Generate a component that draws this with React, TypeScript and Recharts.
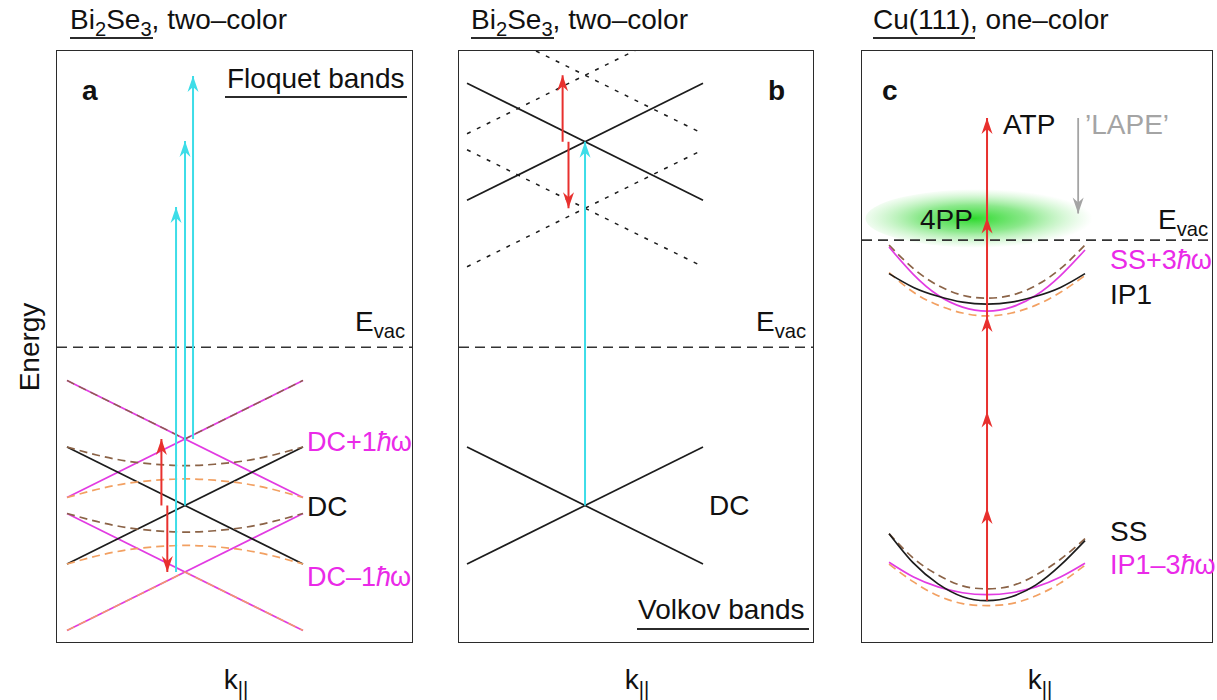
import React from 'react';
import {
    ComposedChart, Line, XAxis, YAxis,
    ReferenceLine, ReferenceArea,
} from 'recharts';

// ---------- panels a & b : Bi2Se3, two-colour ----------
// k in units of the cone half-width, E in units of the pump photon (ħω)
const coneK = [-1, 1];
const dcFalling = [0.88, -0.88];
const dcRising = [-0.88, 0.88];
const dcPlusFalling = [1.88, 0.12];
const dcPlusRising = [0.12, 1.88];
const dcMinusFalling = [-0.12, -1.88];
const dcMinusRising = [-1.88, -0.12];

const vK = [-1, 0, 1];
const dcPlusTop = [1.88, 1, 1.88];
const dcMinusBottom = [-1.88, -1, -1.88];

// hybridised bands around the DC / DC±1ħω crossings
const gapK = [-1, -0.75, -0.5, -0.25, 0, 0.25, 0.5, 0.75, 1];
const upperGapHigh = [0.88, 0.76, 0.67, 0.62, 0.6, 0.62, 0.67, 0.76, 0.88];
const upperGapLow = [0.12, 0.24, 0.33, 0.38, 0.4, 0.38, 0.33, 0.24, 0.12];
const lowerGapHigh = [-0.12, -0.24, -0.33, -0.38, -0.4, -0.38, -0.33, -0.24, -0.12];
const lowerGapLow = [-0.88, -0.76, -0.67, -0.62, -0.6, -0.62, -0.67, -0.76, -0.88];

const eVacAB = 2.38;

// transitions: [k, E start, E end]
const probeA = [[-0.076, -1, 4.49], [0, 0, 5.48], [0.068, 1, 6.46]];
const pumpA = [[-0.2, 0, 1], [-0.15, 0, -1]];

// Volkov replicas of the photoemitted cone
const volkovFalling = [6.35, 4.59];
const volkovRising = [4.59, 6.35];
const volkovPlusFalling = [7.35, 5.59];
const volkovPlusRising = [5.59, 7.35];
const volkovMinusFalling = [5.35, 3.59];
const volkovMinusRising = [3.59, 5.35];
const probeB = [[0, 0, 5.47]];
const pumpB = [[-0.19, 5.47, 6.47], [-0.14, 5.47, 4.47]];

// ---------- panel c : Cu(111), one-colour ----------
const parK = [-1, -0.75, -0.5, -0.25, 0, 0.25, 0.5, 0.75, 1];
const ip1 = [3.74, 3.6, 3.51, 3.45, 3.43, 3.45, 3.51, 3.6, 3.74];
const ssPlus3 = [4.01, 3.73, 3.52, 3.4, 3.36, 3.4, 3.52, 3.72, 3.98];
const ip1HybHigh = [4.03, 3.79, 3.62, 3.52, 3.49, 3.52, 3.62, 3.79, 4.03];
const ip1HybLow = [3.75, 3.55, 3.42, 3.34, 3.31, 3.34, 3.42, 3.55, 3.72];
const ss = [1.1, 0.8, 0.59, 0.46, 0.42, 0.46, 0.58, 0.78, 1.03];
const ip1Minus3 = [0.81, 0.66, 0.56, 0.5, 0.48, 0.5, 0.56, 0.66, 0.8];
const ssHybHigh = [1.1, 0.85, 0.68, 0.57, 0.54, 0.57, 0.68, 0.84, 1.05];
const ssHybLow = [0.79, 0.61, 0.47, 0.39, 0.37, 0.39, 0.47, 0.6, 0.78];
const photonSteps = [0.42, 1.36, 2.34, 3.31, 4.31, 5.32];
const lapeK = 0.93;
const lapeE = [5.32, 4.35];
const eVacC = 4.08;
const fourPPk = [-1.24, 1.2];
const fourPPe = [4.0, 4.6];

const FONT = '"Liberation Sans", Arial, Helvetica, sans-serif';
const MAGENTA = '#e23be2';
const MAGENTA_TXT = '#ea2ae8';
const BLACK = '#1c1c1c';
const BROWN = '#8b6347';
const ORANGE = '#f2a062';
const CYAN = '#3ddde8';
const RED = '#e8302e';
const GREY = '#a4a4a4';

const arrowDot = (color: string, up: boolean) => (props: any) => {
    const { cx, cy, index } = props;
    if (index === 0 || cx == null || cy == null) return <g key={`n${index}`} />;
    const s = up ? 1 : -1;
    const d = `M${cx},${cy} L${cx - 5.5},${cy + s * 16} L${cx},${cy + s * 11} L${cx + 5.5},${cy + s * 16} Z`;
    return <path key={`h${index}`} d={d} fill={color} stroke="none" />;
};

const seg = (
    key: string, ks: number[], es: number[], color: string,
    opts: { dash?: string; curve?: boolean; w?: number; head?: 'up' | 'down' } = {},
) => (
    <Line
        key={key}
        data={ks.map((k, i) => ({ k, E: es[i] }))}
        dataKey="E"
        type={opts.curve ? 'natural' : 'linear'}
        stroke={color}
        strokeWidth={opts.w ?? 1.7}
        strokeDasharray={opts.dash}
        dot={opts.head ? arrowDot(color, opts.head === 'up') : false}
        activeDot={false}
        isAnimationActive={false}
        legendType="none"
    />
);

const arrows = (prefix: string, list: number[][], color: string, w = 2) =>
    list.map(([k, e0, e1], i) =>
        seg(`${prefix}${i}`, [k, k], [e0, e1], color, { w, head: e1 > e0 ? 'up' : 'down' }));

const glow = (props: any) => {
    const { x, y, width, height } = props;
    return (
        <g>
            <defs>
                <radialGradient id="glow4pp" cx="45%" cy="50%" r="50%">
                    <stop offset="0%" stopColor="#22d822" stopOpacity={0.95} />
                    <stop offset="45%" stopColor="#4cdc4c" stopOpacity={0.65} />
                    <stop offset="100%" stopColor="#8aea8a" stopOpacity={0} />
                </radialGradient>
            </defs>
            <ellipse cx={x + width / 2} cy={y + height / 2} rx={width / 2} ry={height / 2} fill="url(#glow4pp)" />
        </g>
    );
};

function Panel({ left, top, width, height, xDomain, yDomain, children }: any) {
    return (
        <div style={{
            position: 'absolute', left: left - 1.6, top: top - 1.6,
            width, height, border: '1.6px solid #2b2b2b',
        }}>
            <ComposedChart width={width} height={height} margin={{ top: 0, right: 0, bottom: 0, left: 0 }}>
                <XAxis type="number" dataKey="k" domain={xDomain} hide allowDataOverflow />
                <YAxis type="number" domain={yDomain} hide allowDataOverflow />
                {children}
            </ComposedChart>
        </div>
    );
}

function Txt({ x, y, size = 28, color = '#111', bold = false, children }: any) {
    return (
        <div style={{
            position: 'absolute', left: x, top: y - 0.8465 * size, fontSize: size,
            lineHeight: 1, color, fontWeight: bold ? 700 : 400, whiteSpace: 'nowrap', fontFamily: FONT,
        }}>
            {children}
        </div>
    );
}

const Sub = ({ children }: any) => (
    <span style={{ fontSize: '0.72em', position: 'relative', top: '0.32em' }}>{children}</span>
);
const HW = () => <span style={{ letterSpacing: -1 }}><i>ħ</i>ω</span>;

const Rule = ({ x1, x2, y }: any) => (
    <div style={{ position: 'absolute', left: x1, top: y, width: x2 - x1, height: 1.6, background: '#2b2b2b' }} />
);

const Evac = ({ x, y }: any) => (
    <Txt x={x} y={y}>E<Sub>vac</Sub></Txt>
);

const Kpar = ({ cx }: any) => (
    <div style={{
        position: 'absolute', left: cx, top: 690 - 0.8465 * 28, transform: 'translateX(-50%)',
        fontSize: 28, lineHeight: 1, fontFamily: FONT, color: '#111', whiteSpace: 'nowrap',
    }}>
        k<Sub>||</Sub>
    </div>
);

export default function App() {
    return (
        <div style={{ position: 'absolute', left: 0, top: 0, width: 1217, height: 700, background: '#fff', fontFamily: FONT }}>
            {/* ---------- panel a ---------- */}
            <Panel left={58} top={52} width={355} height={591} xDomain={[-1.085, 1.924]} yDomain={[-2.053, 6.835]}>
                <ReferenceLine y={eVacAB} stroke="#333" strokeDasharray="10 6" strokeWidth={1.6} />
                {seg('dpf', coneK, dcPlusFalling, MAGENTA)}
                {seg('dpr', coneK, dcPlusRising, MAGENTA)}
                {seg('dmf', coneK, dcMinusFalling, MAGENTA)}
                {seg('dmr', coneK, dcMinusRising, MAGENTA)}
                {seg('dcf', coneK, dcFalling, BLACK)}
                {seg('dcr', coneK, dcRising, BLACK)}
                {seg('top', vK, dcPlusTop, BROWN, { dash: '8 5', w: 1.4 })}
                {seg('bot', vK, dcMinusBottom, ORANGE, { dash: '8 5', w: 1.4 })}
                {seg('ugh', gapK, upperGapHigh, BROWN, { dash: '8 5', curve: true })}
                {seg('ugl', gapK, upperGapLow, ORANGE, { dash: '8 5', curve: true })}
                {seg('lgh', gapK, lowerGapHigh, BROWN, { dash: '8 5', curve: true })}
                {seg('lgl', gapK, lowerGapLow, ORANGE, { dash: '8 5', curve: true })}
                {arrows('pa', probeA, CYAN)}
                {arrows('ra', pumpA, RED)}
            </Panel>

            {/* ---------- panel b ---------- */}
            <Panel left={460} top={52} width={354} height={591} xDomain={[-1.068, 1.932]} yDomain={[-2.053, 6.835]}>
                <ReferenceLine y={eVacAB} stroke="#333" strokeDasharray="10 6" strokeWidth={1.6} />
                {seg('vpf', coneK, volkovPlusFalling, BLACK, { dash: '4 7', w: 1.5 })}
                {seg('vpr', coneK, volkovPlusRising, BLACK, { dash: '4 7', w: 1.5 })}
                {seg('vmf', coneK, volkovMinusFalling, BLACK, { dash: '4 7', w: 1.5 })}
                {seg('vmr', coneK, volkovMinusRising, BLACK, { dash: '4 7', w: 1.5 })}
                {seg('vf', coneK, volkovFalling, BLACK)}
                {seg('vr', coneK, volkovRising, BLACK)}
                {seg('bf', coneK, dcFalling, BLACK)}
                {seg('br', coneK, dcRising, BLACK)}
                {arrows('pb', probeB, CYAN)}
                {arrows('rb', pumpB, RED)}
            </Panel>

            {/* ---------- panel c ---------- */}
            <Panel left={863} top={52} width={350} height={591} xDomain={[-1.276, 2.296]} yDomain={[0, 6]}>
                <ReferenceArea x1={fourPPk[0]} x2={fourPPk[1]} y1={fourPPe[0]} y2={fourPPe[1]} shape={glow} ifOverflow="visible" />
                <ReferenceLine y={eVacC} stroke="#333" strokeDasharray="10 6" strokeWidth={1.6} />
                {seg('ip1h', parK, ip1HybHigh, BROWN, { dash: '8 5', curve: true })}
                {seg('ip1l', parK, ip1HybLow, ORANGE, { dash: '8 5', curve: true })}
                {seg('ss3', parK, ssPlus3, MAGENTA, { curve: true })}
                {seg('ip1', parK, ip1, BLACK, { curve: true })}
                {seg('ssh', parK, ssHybHigh, BROWN, { dash: '8 5', curve: true })}
                {seg('ssl', parK, ssHybLow, ORANGE, { dash: '8 5', curve: true })}
                {seg('ipm3', parK, ip1Minus3, MAGENTA, { curve: true })}
                {seg('ss', parK, ss, BLACK, { curve: true })}
                {seg('lape', [lapeK, lapeK], lapeE, GREY, { w: 1.8, head: 'down' })}
                {seg('photon', photonSteps.map(() => 0), photonSteps, RED, { w: 2, head: 'up' })}
            </Panel>

            {/* ---------- titles ---------- */}
            <Txt x={70} y={30}>Bi<Sub>2</Sub>Se<Sub>3</Sub>, two–color</Txt>
            <Rule x1={70} x2={153} y={37} />
            <Txt x={471} y={30}>Bi<Sub>2</Sub>Se<Sub>3</Sub>, two–color</Txt>
            <Rule x1={471} x2={554} y={37} />
            <Txt x={873} y={30}>Cu(111), one–color</Txt>
            <Rule x1={873} x2={975} y={37} />

            {/* ---------- panel a labels ---------- */}
            <Txt x={82} y={101} bold>a</Txt>
            <Txt x={227} y={89}>Floquet bands</Txt>
            <Rule x1={225} x2={407} y={96} />
            <Evac x={355} y={332} />
            <Txt x={307} y={452} size={27} color={MAGENTA_TXT}>DC+1<HW /></Txt>
            <Txt x={307} y={517}>DC</Txt>
            <Txt x={307} y={587} size={27} color={MAGENTA_TXT}>DC–1<HW /></Txt>

            {/* ---------- panel b labels ---------- */}
            <Txt x={768} y={101} bold>b</Txt>
            <Evac x={756} y={332} />
            <Txt x={709} y={516}>DC</Txt>
            <Txt x={638} y={620}>Volkov bands</Txt>
            <Rule x1={637} x2={809} y={628} />

            {/* ---------- panel c labels ---------- */}
            <Txt x={882} y={101} bold>c</Txt>
            <Txt x={1003} y={135}>ATP</Txt>
            <Txt x={1085} y={135} color={GREY}>’LAPE’</Txt>
            <Txt x={920} y={230}>4PP</Txt>
            <Evac x={1158} y={230} />
            <Txt x={1110} y={270} size={27} color={MAGENTA_TXT}>SS+3<HW /></Txt>
            <Txt x={1110} y={305}>IP1</Txt>
            <Txt x={1110} y={542}>SS</Txt>
            <Txt x={1110} y={575} size={27} color={MAGENTA_TXT}>IP1–3<HW /></Txt>

            {/* ---------- axis labels ---------- */}
            <div style={{
                position: 'absolute', left: 30, top: 347, transform: 'translate(-50%, -50%) rotate(-90deg)',
                fontSize: 28, lineHeight: 1, fontFamily: FONT, color: '#111', whiteSpace: 'nowrap',
            }}>
                Energy
            </div>
            <Kpar cx={236} />
            <Kpar cx={637} />
            <Kpar cx={1040} />
        </div>
    );
}
